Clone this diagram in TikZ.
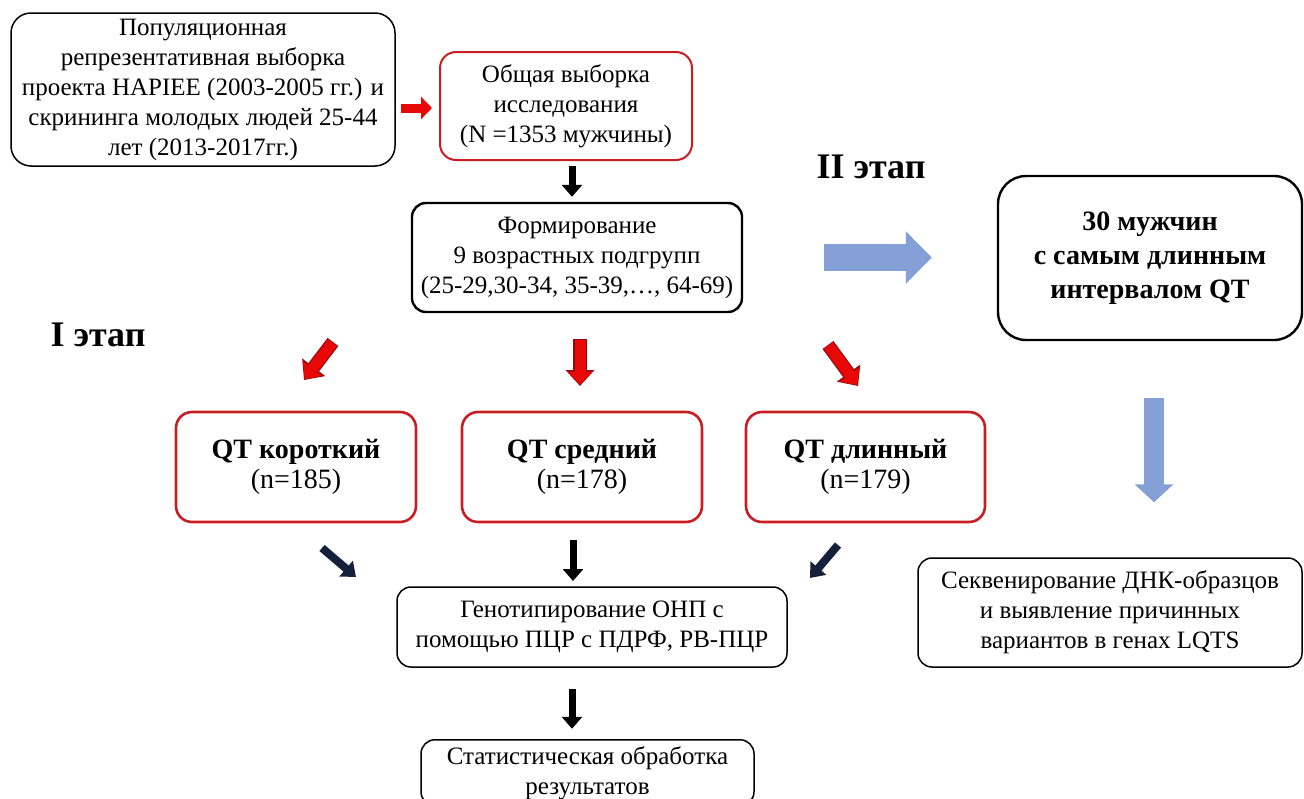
\documentclass[tikz,border=0pt]{standalone}
\usepackage{fontspec}
\setmainfont{Liberation Serif}
\usetikzlibrary{arrows.meta,calc}
\definecolor{boxred}{RGB}{200,30,35}
\definecolor{arrred}{RGB}{232,8,8}
\definecolor{arrdark}{RGB}{150,10,10}
\definecolor{arrblue}{RGB}{132,160,214}
\definecolor{arrnavy}{RGB}{22,32,58}
\begin{document}
\begin{tikzpicture}[x=1pt,y=-1pt,
  box/.style={draw=black, line width=1.5pt, rounded corners=14pt, align=center, inner sep=0pt, fill=white,
    font=\fontsize{25}{30}\selectfont\rmfamily},
  redbox/.style={box, draw=boxred, line width=2.6pt, rounded corners=16pt},
  boldbox/.style={box, line width=2.4pt, rounded corners=28pt, font=\fontsize{28}{34}\selectfont\rmfamily\bfseries},
  stage/.style={font=\fontsize{36}{40}\selectfont\rmfamily\bfseries, inner sep=0pt},
  redarrout/.style={draw=arrdark, line width=13.5pt, -{Triangle[length=16pt,width=28pt]}},
  redarr/.style={draw=arrred, line width=11pt, -{Triangle[length=13pt,width=23pt]}, shorten >=1.2pt, shorten <=0.8pt},
  smallred/.style={draw=arrred, line width=9pt, -{Triangle[length=11pt,width=22pt]}},
  blackarr/.style={draw=black, line width=7pt, -{Triangle[length=12pt,width=20pt]}},
  navyarr/.style={draw=arrnavy, line width=8pt, -{Triangle[length=13pt,width=20pt]}},
  bluearr/.style={draw=arrblue, line width=27pt, -{Triangle[length=26pt,width=51pt]}},
  bluearrv/.style={draw=arrblue, line width=20pt, -{Triangle[length=18pt,width=38pt]}}
]
\useasboundingbox (0,0) rectangle (1304,798);

\node[box, rounded corners=20pt, minimum width=384pt, minimum height=153pt] (A) at (203,89.5)
  {Популяционная\\репрезентативная выборка\\проекта HAPIEE (2003-2005 гг.) и\\скрининга молодых людей 25-44\\лет (2013-2017гг.)};
\node[redbox, line width=2pt, rounded corners=16pt, minimum width=252pt, minimum height=108pt] (B) at (566,106)
  {Общая выборка\\исследования\\(N =1353 мужчины)};
\node[box, line width=2.4pt, minimum width=330pt, minimum height=109pt] (C) at (577,257.5)
  {Формирование\\9 возрастных подгрупп\\(25-29,30-34, 35-39,\dots, 64-69)};
\node[boldbox, minimum width=304pt, minimum height=164pt] (D) at (1150,258)
  {30 мужчин\\с самым длинным\\интервалом QT};
\node[redbox, minimum width=240pt, minimum height=110pt] (Q1) at (296,467)
  {\fontsize{28}{36}\selectfont\bfseries QT короткий\\\fontsize{28}{36}\selectfont(n=185)};
\node[redbox, minimum width=240pt, minimum height=110pt] (Q2) at (582,467)
  {\fontsize{28}{36}\selectfont\bfseries QT средний\\\fontsize{28}{36}\selectfont(n=178)};
\node[redbox, minimum width=239pt, minimum height=110pt] (Q3) at (865.5,467)
  {\fontsize{28}{36}\selectfont\bfseries QT длинный\\\fontsize{28}{36}\selectfont(n=179)};
\node[box, minimum width=390pt, minimum height=80pt] (G) at (592,627)
  {Генотипирование ОНП с\\помощью ПЦР с ПДРФ, РВ-ПЦР};
\node[box, minimum width=333pt, minimum height=66pt, anchor=north] (S) at (587.5,739)
  {Статистическая обработка\\результатов};
\node[box, minimum width=384pt, minimum height=109pt] (E) at (1110,612.5)
  {Секвенирование ДНК-образцов\\и выявление причинных\\вариантов в генах LQTS};

\node[stage] (st2) at (871,167) {II этап};
\node[stage] (st1) at (98,335) {I этап};

% connectors
\draw[smallred, shorten <=5pt, shorten >=7pt] ([yshift=-2pt]A.east |- B.west) -- ([yshift=-2pt]B.west);
\draw[blackarr] ([xshift=6pt,yshift=-5pt]B.south) -- ([xshift=6pt,yshift=5pt]B.south |- C.north);

\coordinate (r1s) at (333,342); \coordinate (r1e) at (304,380);
\coordinate (r2s) at (580,339); \coordinate (r2e) at (580,386);
\coordinate (r3s) at (828,345); \coordinate (r3e) at (858,386);
\foreach \s/\e in {r1s/r1e, r2s/r2e, r3s/r3e} {
  \draw[redarrout] (\s) -- (\e);
  \draw[redarr] (\s) -- (\e);
}

\coordinate (n1s) at (322,548); \coordinate (n1e) at (356,577);
\coordinate (n2s) at (573,540); \coordinate (n2e) at (573,581);
\coordinate (n3s) at (838,545); \coordinate (n3e) at (810,578);
\draw[navyarr] (n1s) -- (n1e);
\draw[blackarr] (n2s) -- (n2e);
\draw[navyarr] (n3s) -- (n3e);

\draw[blackarr] ([xshift=-20pt,yshift=-21pt]G.south) -- ([xshift=-20pt,yshift=-61pt]G.south);

\draw[bluearr, shorten <=81pt, shorten >=65pt] (C.east) -- (C.east -| D.west);
\draw[bluearrv, shorten <=57pt, shorten >=55pt] (D.south -| 1154,0) -- (E.north -| 1154,0);
\end{tikzpicture}
\end{document}
